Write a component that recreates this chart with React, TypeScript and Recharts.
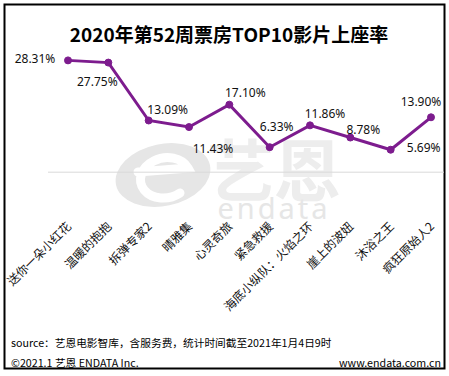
import React from 'react';
import { LineChart, Line, XAxis, YAxis, LabelList } from 'recharts';

const films = ['送你一朵小红花', '温暖的抱抱', '拆弹专家2', '晴雅集', '心灵奇旅', '紧急救援', '海底小纵队：火焰之环', '崖上的波妞', '沐浴之王', '疯狂原始人2'];
const rates = [28.31, 27.75, 13.09, 11.43, 17.1, 6.33, 11.86, 8.78, 5.69, 13.9];
const yDomain = [0, 30];

const data = films.map((name, i) => ({ name, v: rates[i] }));

// label placement relative to the point (style only)
const labelOffsets: Array<[number, number]> = [
  [-33, -2], [-11, 19], [19, -11], [24, 21], [16, -12],
  [7, -21], [15, -12], [13, -8], [33, -2], [-10, -16],
];

const PURPLE = '#7D1C8E';
const FONT = '"Noto Sans", "Noto Sans CJK SC", sans-serif';

const ValueLabel = (props: any) => {
  const { x, y, value, index } = props;
  const [dx, dy] = labelOffsets[index] || [0, -12];
  return (
    <text x={x + dx} y={y + dy} textAnchor="middle" dominantBaseline="central" fontSize={12} fontFamily={FONT} fill="#111">
      {Number(value).toFixed(2)}%
    </text>
  );
};

const RotTick = (props: any) => {
  const { x, y, payload } = props;
  const ax = x + 4;
  const ay = y + 47;
  return (
    <text x={ax} y={ay} transform={`rotate(-45 ${ax} ${ay})`} textAnchor="end" fontSize={12} fontFamily='"Noto Sans CJK SC", sans-serif' fill="#111">
      {payload.value}
    </text>
  );
};

export default function App() {
  return (
    <div style={{ position: 'absolute', left: 0, top: 0, width: 449, height: 376, background: '#fff' }}>
      <svg width={449} height={376} style={{ position: 'absolute', left: 0, top: 0 }}>
        <rect x={4.5} y={4.5} width={440} height={364} fill="#fff" stroke="#000" strokeWidth={2} />
        {/* watermark */}
        <g>
          <ellipse cx={163} cy={175} rx={48} ry={31} fill="#e6e6e6" transform="rotate(-12 163 175)" />
          <path d="M138 172 L188 168 A25 20 -12 1 0 180 193" fill="none" stroke="#fff" strokeWidth={9} strokeLinecap="round" />
          <text x={274} y={196} textAnchor="middle" fontSize={67} fontWeight="bold" fontFamily='"Noto Sans CJK SC", sans-serif' fill="#ededed">艺恩</text>
          <text x={274} y={219} textAnchor="middle" fontSize={29} fontFamily='"Noto Sans", sans-serif' fill="#e6e6e6" letterSpacing={3}>endata</text>
        </g>
        <text x={229} y={42} textAnchor="middle" fontSize={19} fontWeight="bold" fontFamily='"Noto Sans CJK SC", sans-serif' fill="#000">2020年第52周票房TOP10影片上座率</text>
        <text x={11} y={347} fontSize={10.7} fontFamily='"Noto Sans CJK SC", sans-serif' fill="#000">source：艺恩电影智库，含服务费，统计时间截至2021年1月4日9时</text>
        <text x={11} y={367} fontSize={10.7} fontFamily='"Noto Sans CJK SC", sans-serif' fill="#000">©2021.1 艺恩 ENDATA Inc.</text>
        <text x={441} y={367} textAnchor="end" fontSize={10.7} fontFamily='"Noto Sans CJK SC", sans-serif' fill="#000">www.endata.com.cn</text>
      </svg>
      <div style={{ position: 'absolute', left: 0, top: 0 }}>
        <LineChart width={449} height={376} data={data} margin={{ top: 53.7, right: 5, bottom: 173.8, left: 48 }}>
          <XAxis dataKey="name" scale="point" padding={{ left: 20, right: 13 }} tickLine={false} axisLine={{ stroke: '#d9d9d9' }} tick={<RotTick />} interval={0} />
          <YAxis hide domain={yDomain} />
          <Line dataKey="v" stroke={PURPLE} strokeWidth={3} dot={{ r: 3.5, fill: PURPLE, stroke: PURPLE, strokeWidth: 1 }} isAnimationActive={false}>
            <LabelList dataKey="v" content={<ValueLabel />} />
          </Line>
        </LineChart>
      </div>
    </div>
  );
}
